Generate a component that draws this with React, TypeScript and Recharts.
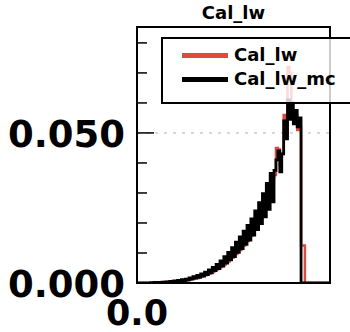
import React from 'react';
import { ComposedChart, Line, XAxis, YAxis, ReferenceLine, ReferenceArea, Legend } from 'recharts';

const TITLE = 'Cal_lw';
const SERIES_NAMES = ['Cal_lw', 'Cal_lw_mc'];
const SERIES_COLORS = ['#dc4b40', '#000000'];
const BIN_COUNT = 100;
const X_MIN = 0;
const X_MAX = 1;
const Y_MAX = 0.0853;

// Cal_lw histogram (red), one value per bin
const calLw = [
  0, 0, 0, 0, 0, 0, 0, 0, 0.0001, 0.0001,
  0.0002, 0.0001, 0.0002, 0.0002, 0.0003, 0.0003, 0.0004, 0.0003, 0.0005, 0.0004,
  0.0006, 0.0006, 0.0008, 0.0007, 0.001, 0.0009, 0.0013, 0.0011, 0.0016, 0.0014,
  0.002, 0.0017, 0.0024, 0.0021, 0.0029, 0.0026, 0.0035, 0.0031, 0.0042, 0.0037,
  0.005, 0.0045, 0.0059, 0.0053, 0.0069, 0.0062, 0.0081, 0.0072, 0.0094, 0.0084,
  0.0108, 0.0097, 0.0124, 0.011, 0.014, 0.0125, 0.0158, 0.014, 0.0178, 0.0158,
  0.02, 0.0178, 0.0224, 0.0198, 0.025, 0.0222, 0.028, 0.0248, 0.0312, 0.0275,
  0.035, 0.036, 0.045, 0.0445, 0.039, 0.043, 0.056, 0.05, 0.072, 0.07,
  0.058, 0.054, 0.056, 0.051, 0.052, 0.0125, 0.0125, 0, 0, 0,
  0, 0, 0, 0, 0, 0, 0, 0, 0, 0,
];

// Cal_lw_mc histogram (black), one value per bin
const calLwMc = [
  0, 0, 0, 0, 0, 0, 0, 0.0001, 0.0001, 0.0002,
  0.0001, 0.0002, 0.0002, 0.0003, 0.0002, 0.0004, 0.0003, 0.0005, 0.0004, 0.0007,
  0.0005, 0.0009, 0.0006, 0.0011, 0.0008, 0.0013, 0.001, 0.0017, 0.0013, 0.0021,
  0.0016, 0.0025, 0.0019, 0.003, 0.0023, 0.0036, 0.0028, 0.0044, 0.0034, 0.0052,
  0.0041, 0.0062, 0.0048, 0.0074, 0.0056, 0.0088, 0.0066, 0.0102, 0.0077, 0.0118,
  0.0088, 0.0136, 0.0102, 0.0154, 0.0115, 0.0173, 0.0129, 0.0192, 0.0143, 0.0214,
  0.016, 0.024, 0.0178, 0.0268, 0.0198, 0.0298, 0.022, 0.0332, 0.0245, 0.0365,
  0.027, 0.0375, 0.041, 0.044, 0.037, 0.043, 0.054, 0.048, 0.061, 0.0545,
  0.06, 0.053, 0.0575, 0.052, 0.055, 0, 0, 0, 0, 0,
  0, 0, 0, 0, 0, 0, 0, 0, 0, 0,
];

const yTicks = [0, 0.01, 0.02, 0.03, 0.04, 0.05, 0.06, 0.07, 0.08];
const yTickLabels: [number, string][] = [
  [0, '0.000'],
  [0.05, '0.050'],
];
const xTicks = [0];
const xTickLabels = ['0.0'];
const GRID_Y = [0.05];

const data = Array.from({ length: BIN_COUNT + 1 }, (_, i) => ({
  x: X_MIN + ((X_MAX - X_MIN) * i) / BIN_COUNT,
  lw: i < BIN_COUNT ? calLw[i] : 0,
  mc: i < BIN_COUNT ? calLwMc[i] : 0,
}));

const FONT = '"DejaVu Sans", sans-serif';

const YTick = (props: any) => {
  const { x, y, payload } = props;
  const found = yTickLabels.find(([v]) => Math.abs(v - payload.value) < 1e-9);
  const label = found ? found[1] : null;
  return (
    <g>
      <line x1={x} x2={x + (label ? 17 : 10)} y1={y} y2={y} stroke="#000" strokeWidth={1.5} />
      {label && (
        <text x={x - 12} y={y} dy={14} textAnchor="end" fontSize={37} fontWeight="bold" fontFamily={FONT} fill="#000">
          {label}
        </text>
      )}
    </g>
  );
};

const XTick = (props: any) => {
  const { x, y, index } = props;
  return (
    <text x={x} y={y} dy={42} textAnchor="middle" fontSize={35} fontWeight="bold" fontFamily={FONT} fill="#000">
      {xTickLabels[index]}
    </text>
  );
};

const LegendContent = (props: any) => {
  const payload = props.payload || [];
  return (
    <div
      style={{
        width: 200,
        height: 59,
        border: '2px solid #000',
        background: 'rgba(255,255,255,0.8)',
        boxSizing: 'content-box',
        fontFamily: FONT,
        paddingTop: 4,
      }}
    >
      {payload.map((p: any, i: number) => (
        <div key={i} style={{ display: 'flex', alignItems: 'center', height: 24, marginLeft: 19 }}>
          <div style={{ width: 46, height: 5, background: p.color }} />
          <span style={{ marginLeft: 6, fontSize: 18, fontWeight: 'bold', color: '#000', lineHeight: '24px' }}>
            {p.value}
          </span>
        </div>
      ))}
    </div>
  );
};

export default function App() {
  return (
    <div style={{ position: 'absolute', left: 0, top: 0, width: 350, height: 332, overflow: 'hidden', background: '#fff' }}>
      <div
        style={{
          position: 'absolute',
          left: 137,
          width: 193,
          top: 2,
          textAlign: 'center',
          fontFamily: FONT,
          fontWeight: 'bold',
          fontSize: 18,
          color: '#000',
        }}
      >
        {TITLE}
      </div>
      <ComposedChart
        width={350}
        height={332}
        data={data}
        margin={{ top: 27, right: 20, bottom: 0, left: 0 }}
      >
        <XAxis
          dataKey="x"
          type="number"
          domain={[X_MIN, X_MAX]}
          ticks={xTicks}
          interval={0}
          tick={<XTick />}
          tickLine={false}
          tickSize={0}
          tickMargin={0}
          height={49}
          axisLine={{ stroke: '#000', strokeWidth: 2 }}
          allowDataOverflow
        />
        <YAxis
          type="number"
          domain={[0, Y_MAX]}
          ticks={yTicks}
          interval={0}
          tick={<YTick />}
          tickLine={false}
          tickSize={0}
          tickMargin={0}
          width={137}
          axisLine={{ stroke: '#000', strokeWidth: 2 }}
          allowDataOverflow
        />
        {GRID_Y.map((g) => (
          <ReferenceLine key={g} y={g} stroke="#b0b0b0" strokeDasharray="3 6" strokeWidth={1} />
        ))}
        <ReferenceArea x1={X_MIN} x2={X_MAX} y1={0} y2={Y_MAX} fill="none" stroke="#000" strokeWidth={2} />
        <Line
          type="stepAfter"
          dataKey="lw"
          name={SERIES_NAMES[0]}
          stroke={SERIES_COLORS[0]}
          strokeWidth={2.5}
          dot={false}
          isAnimationActive={false}
        />
        <Line
          type="stepAfter"
          dataKey="mc"
          name={SERIES_NAMES[1]}
          stroke={SERIES_COLORS[1]}
          strokeWidth={2.8}
          dot={false}
          isAnimationActive={false}
        />
        <Legend
          layout="horizontal"
          verticalAlign="middle"
          align="center"
          content={<LegendContent />}
          wrapperStyle={{ position: 'absolute', left: 161, top: 37, width: 210, height: 63 }}
        />
      </ComposedChart>
    </div>
  );
}
